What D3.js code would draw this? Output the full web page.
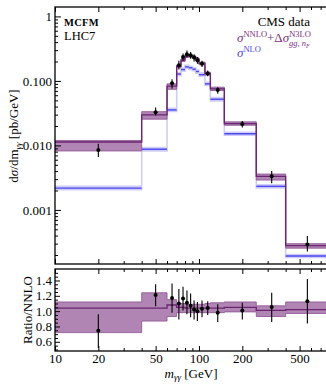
<!DOCTYPE html>
<html>
<head>
<meta charset="utf-8">
<script src="https://cdn.jsdelivr.net/npm/d3@7"></script>
<style>
  html, body { margin: 0; padding: 0; background: #fff; }
  svg { display: block; }
  text { font-family: 'Liberation Serif', 'DejaVu Serif', serif; }
</style>
</head>
<body>
<div id="chart"></div>
<script>
// Bin edges and centres [GeV]
const edges = [10, 40, 60, 70, 75, 80, 85, 90, 95, 100, 110, 120, 150, 250, 400, 800];
const centers = [20, 50, 65, 72.5, 77.5, 82.5, 87.5, 92.5, 97.5, 105, 115, 135, 200, 320, 566];

// Upper panel: dσ/dm [pb/GeV]
const nnloN3lo   = [0.0113, 0.0297, 0.083, 0.168, 0.210, 0.243, 0.243, 0.234, 0.218, 0.187, 0.130, 0.0755, 0.0218, 0.0033, 0.00028];
const nnloN3loLo = [0.0082, 0.0255, 0.074, 0.160, 0.200, 0.232, 0.232, 0.224, 0.208, 0.178, 0.123, 0.0710, 0.0205, 0.0029, 0.000255];
const nnloN3loHi = [0.0119, 0.0334, 0.090, 0.176, 0.220, 0.254, 0.254, 0.245, 0.228, 0.196, 0.137, 0.0800, 0.0232, 0.0036, 0.00030];
const nlo   = [0.00218, 0.00873, 0.0355, 0.128, 0.150, 0.165, 0.160, 0.152, 0.140, 0.125, 0.090, 0.052, 0.0152, 0.00232, 0.000193];
const nloLo = [0.00205, 0.00820, 0.0335, 0.121, 0.142, 0.156, 0.151, 0.144, 0.132, 0.118, 0.085, 0.049, 0.0144, 0.00219, 0.000183];
const nloHi = [0.00232, 0.00925, 0.0375, 0.135, 0.158, 0.174, 0.169, 0.160, 0.148, 0.132, 0.095, 0.055, 0.0160, 0.00245, 0.000204];
const cmsData = [0.0085, 0.0327, 0.092, 0.175, 0.235, 0.260, 0.250, 0.230, 0.210, 0.185, 0.130, 0.072, 0.0215, 0.00334, 0.00029];
const cmsLo   = [0.0066, 0.0290, 0.076, 0.150, 0.205, 0.230, 0.220, 0.200, 0.185, 0.165, 0.118, 0.063, 0.0190, 0.00260, 0.000226];
const cmsHi   = [0.0106, 0.0386, 0.106, 0.205, 0.265, 0.295, 0.280, 0.260, 0.235, 0.205, 0.145, 0.080, 0.0240, 0.00400, 0.000395];

// Lower panel: ratio to NNLO
const ratioCentral = [1.04, 1.04, 1.08, 1.05, 1.05, 1.04, 1.04, 1.04, 1.04, 1.04, 1.04, 1.04, 1.05, 1.01, 1.02];
const ratioLo      = [0.72, 0.87, 0.93, 0.98, 0.98, 0.98, 0.98, 0.98, 0.98, 0.98, 0.98, 0.98, 0.99, 0.93, 0.97];
const ratioHi      = [1.12, 1.24, 1.15, 1.10, 1.10, 1.09, 1.09, 1.09, 1.09, 1.09, 1.10, 1.11, 1.12, 1.07, 1.12];
const dataRatio    = [0.744, 1.21, 1.17, 1.10, 1.165, 1.11, 1.07, 1.02, 1.00, 1.03, 1.04, 0.98, 1.01, 1.055, 1.13];
const dataRatioLo  = [0.52, 1.065, 0.98, 0.89, 1.01, 0.96, 0.92, 0.89, 0.87, 0.92, 0.95, 0.86, 0.89, 0.86, 0.84];
const dataRatioHi  = [0.96, 1.35, 1.36, 1.29, 1.32, 1.27, 1.23, 1.14, 1.12, 1.14, 1.13, 1.09, 1.11, 1.24, 1.42];

// Ticks
const xMajor = [10, 20, 50, 100, 200, 500];
const xMinor = [30, 40, 60, 70, 80, 90, 300, 400, 600, 700, 800];
const yMainTicks = [1, 0.1, 0.01, 0.001];
const yMainLabels = ['1', '0.100', '0.010', '0.001'];
const yRatioTicks = [0.6, 0.8, 1.0, 1.2, 1.4];
const yRatioLabels = ['0.6', '0.8', '1.0', '1.2', '1.4'];

const W = 326, H = 384;
const BAND = '#b085b4';
const BAND_EDGE = '#8b4f8f';
const LINE = '#6b2470';
const NLO = '#4a46f0';
const NLO_BAND = '#cfccf5';
const SERIF = "'Liberation Serif', 'DejaVu Serif', serif";

const main = { left: 55, right: 329, top: 7, bottom: 264 };
const ratio = { left: 55, right: 329, top: 269, bottom: 351 };

const x = d3.scaleLog().domain([10, 800]).range([main.left, main.right]);
const y = d3.scaleLog().domain([1.45e-4, 1.4]).range([main.bottom, main.top]);
const yr = d3.scaleLinear().domain([0.48, 1.55]).range([ratio.bottom, ratio.top]);

const svg = d3.select('#chart').append('svg').attr('width', W).attr('height', H);

const defs = svg.append('defs');
defs.append('clipPath').attr('id', 'clipMain').append('rect')
  .attr('x', main.left).attr('y', main.top).attr('width', main.right - main.left).attr('height', main.bottom - main.top);
defs.append('clipPath').attr('id', 'clipRatio').append('rect')
  .attr('x', ratio.left).attr('y', ratio.top).attr('width', ratio.right - ratio.left).attr('height', ratio.bottom - ratio.top);

// step helpers
function stepPts(vals) {
  const pts = [];
  vals.forEach((v, i) => { pts.push([edges[i], v]); pts.push([edges[i + 1], v]); });
  return pts;
}
function stepBand(lo, hi) {
  const pts = [];
  lo.forEach((v, i) => { pts.push([edges[i], v, hi[i]]); pts.push([edges[i + 1], v, hi[i]]); });
  return pts;
}

function drawPanel(g, ys, bandLo, bandHi, central, nloVals, nloL, nloH, pts, ptsLo, ptsHi) {
  const area = d3.area().x((d) => x(d[0])).y0((d) => ys(d[1])).y1((d) => ys(d[2]));
  const line = d3.line().x((d) => x(d[0])).y((d) => ys(d[1]));

  if (nloVals) {
    g.append('path').datum(stepBand(nloL, nloH))
      .attr('d', area).attr('fill', NLO_BAND).attr('stroke', NLO_BAND).attr('stroke-width', 1.6);
    // NLO horizontals
    g.selectAll('line.nlo').data(nloVals).enter().append('line')
      .attr('x1', (d, i) => x(edges[i])).attr('x2', (d, i) => x(edges[i + 1]))
      .attr('y1', (d) => ys(d)).attr('y2', (d) => ys(d))
      .attr('stroke', NLO).attr('stroke-width', 1.4);
  }

  g.append('path').datum(stepBand(bandLo, bandHi))
    .attr('d', area).attr('fill', BAND).attr('stroke', BAND_EDGE).attr('stroke-width', 0.8);
  g.append('path').datum(stepPts(central))
    .attr('d', line).attr('fill', 'none').attr('stroke', LINE).attr('stroke-width', 1.3);

  // data
  g.selectAll('line.err').data(pts).enter().append('line')
    .attr('x1', (d, i) => x(centers[i])).attr('x2', (d, i) => x(centers[i]))
    .attr('y1', (d, i) => ys(ptsLo[i])).attr('y2', (d, i) => ys(ptsHi[i]))
    .attr('stroke', '#000').attr('stroke-width', 1.1);
  g.selectAll('circle.pt').data(pts).enter().append('circle')
    .attr('cx', (d, i) => x(centers[i])).attr('cy', (d) => ys(d))
    .attr('r', 2).attr('fill', '#000');
}

const gMain = svg.append('g').attr('clip-path', 'url(#clipMain)');
drawPanel(gMain, y, nnloN3loLo, nnloN3loHi, nnloN3lo, nlo, nloLo, nloHi, cmsData, cmsLo, cmsHi);

const gRatio = svg.append('g').attr('clip-path', 'url(#clipRatio)');
drawPanel(gRatio, yr, ratioLo, ratioHi, ratioCentral, null, null, null, dataRatio, dataRatioLo, dataRatioHi);

// frames + ticks
function styleAxis(sel) {
  sel.attr('font-family', SERIF).attr('font-size', 13);
  sel.select('.domain').remove();
  sel.selectAll('.tick line').attr('stroke', '#000').attr('stroke-width', 1);
  sel.selectAll('text').attr('fill', '#000');
}

function xTicks(yPos, dir, labels) {
  const maj = (dir === 'up' ? d3.axisBottom(x) : d3.axisTop(x))
    .tickValues(xMajor).tickSizeInner(-5).tickSizeOuter(0).tickPadding(labels ? 3 : 0)
    .tickFormat(labels ? d3.format('d') : () => '');
  svg.append('g').attr('transform', `translate(0,${yPos})`).call(maj).call(styleAxis);
  const mnr = (dir === 'up' ? d3.axisBottom(x) : d3.axisTop(x))
    .tickValues(xMinor).tickSizeInner(-3).tickSizeOuter(0).tickFormat(() => '');
  svg.append('g').attr('transform', `translate(0,${yPos})`).call(mnr).call(styleAxis);
}

const yMinor = [];
[1e-4, 1e-3, 1e-2, 1e-1, 1].forEach((dec) => {
  for (let k = 2; k <= 9; k++) {
    const v = dec * k;
    if (v > 1.45e-4 && v < 1.4) yMinor.push(v);
  }
});
const yRatioMinor = d3.range(0.5, 1.55, 0.05).filter((v) => !yRatioTicks.some((t) => Math.abs(t - v) < 1e-6));

svg.append('g').attr('transform', `translate(${main.left},0)`)
  .call(d3.axisLeft(y).tickValues(yMainTicks).tickSizeInner(-6).tickSizeOuter(0).tickPadding(3)
    .tickFormat((d, i) => yMainLabels[i]))
  .call(styleAxis);
svg.append('g').attr('transform', `translate(${main.left},0)`)
  .call(d3.axisLeft(y).tickValues(yMinor).tickSizeInner(-3).tickSizeOuter(0).tickFormat(() => ''))
  .call(styleAxis);
svg.append('g').attr('transform', `translate(${ratio.left},0)`)
  .call(d3.axisLeft(yr).tickValues(yRatioTicks).tickSizeInner(-5).tickSizeOuter(0).tickPadding(3)
    .tickFormat((d, i) => yRatioLabels[i]))
  .call(styleAxis);
svg.append('g').attr('transform', `translate(${ratio.left},0)`)
  .call(d3.axisLeft(yr).tickValues(yRatioMinor).tickSizeInner(-3).tickSizeOuter(0).tickFormat(() => ''))
  .call(styleAxis);

xTicks(main.top, 'down', false);
xTicks(main.bottom, 'up', false);
xTicks(ratio.top, 'down', false);
xTicks(ratio.bottom, 'up', true);

[main, ratio].forEach((p) => {
  svg.append('rect').attr('x', p.left).attr('y', p.top)
    .attr('width', p.right - p.left).attr('height', p.bottom - p.top)
    .attr('fill', 'none').attr('stroke', '#000').attr('stroke-width', 1.3);
});

// labels
svg.append('text').attr('x', 64).attr('y', 26).attr('font-size', 10.5).attr('font-weight', 'bold')
  .attr('letter-spacing', '0.3px').text('MCFM');
svg.append('text').attr('x', 64).attr('y', 40).attr('font-size', 12.5).text('LHC7');

svg.append('text').attr('x', 310).attr('y', 26).attr('font-size', 13).attr('text-anchor', 'end').text('CMS data');

const leg = svg.append('text').attr('x', 237).attr('y', 42).attr('fill', '#7d2f84').attr('font-size', 13);
leg.append('tspan').attr('font-style', 'italic').text('σ');
leg.append('tspan').attr('font-size', 8.5).attr('dy', -5).text('NNLO');
leg.append('tspan').attr('dy', 5).text('+Δ');
leg.append('tspan').attr('font-style', 'italic').text('σ');
leg.append('tspan').attr('font-size', 8.5).attr('dy', -5).text('N3LO');
leg.append('tspan').attr('font-size', 8.5).attr('dx', -22).attr('dy', 9).attr('font-style', 'italic').text('gg, n');
leg.append('tspan').attr('font-size', 6).attr('dy', 2).attr('font-style', 'italic').text('F');

const leg2 = svg.append('text').attr('x', 237).attr('y', 57).attr('fill', NLO).attr('font-size', 13);
leg2.append('tspan').attr('font-style', 'italic').text('σ');
leg2.append('tspan').attr('font-size', 8.5).attr('dy', -5).text('NLO');

const yt = svg.append('text').attr('transform', 'translate(18,136) rotate(-90)')
  .attr('text-anchor', 'middle').attr('font-size', 13);
yt.append('tspan').text('d');
yt.append('tspan').attr('font-style', 'italic').text('σ');
yt.append('tspan').text('/dm');
yt.append('tspan').attr('font-size', 9).attr('dy', 3).attr('font-style', 'italic').text('γγ');
yt.append('tspan').attr('dy', -3).text(' [pb/GeV]');

svg.append('text').attr('transform', 'translate(32,310) rotate(-90)')
  .attr('text-anchor', 'middle').attr('font-size', 13).text('Ratio/NNLO');

const xt = svg.append('text').attr('x', 191).attr('y', 378).attr('text-anchor', 'middle').attr('font-size', 13);
xt.append('tspan').attr('font-style', 'italic').text('m');
xt.append('tspan').attr('font-size', 9).attr('dy', 2).attr('font-style', 'italic').text('γγ');
xt.append('tspan').attr('dy', -2).text(' [GeV]');
</script>
</body>
</html>
